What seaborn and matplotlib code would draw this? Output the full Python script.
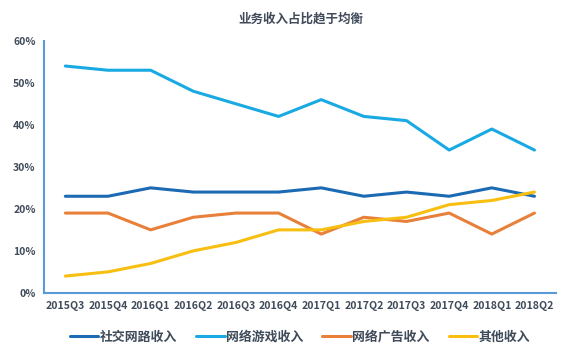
import matplotlib.pyplot as plt
import seaborn as sns
import numpy as np
import pandas as pd

quarters = ["2015Q3", "2015Q4", "2016Q1", "2016Q2", "2016Q3", "2016Q4",
            "2017Q1", "2017Q2", "2017Q3", "2017Q4", "2018Q1", "2018Q2"]
social = [23, 23, 25, 24, 24, 24, 25, 23, 24, 23, 25, 23]
games = [54, 53, 53, 48, 45, 42, 46, 42, 41, 34, 39, 34]
ads = [19, 19, 15, 18, 19, 19, 14, 18, 17, 19, 14, 19]
other = [4, 5, 7, 10, 12, 15, 15, 17, 18, 21, 22, 24]
series_names = ["社交网路收入", "网络游戏收入", "网络广告收入", "其他收入"]
colors = ["#1B6AB3", "#19A9E3", "#E8803A", "#F8BF10"]


def main() -> None:
    sns.set_style("white")
    plt.rcParams['font.family'] = ['Noto Sans CJK SC', 'DejaVu Sans']

    # long-form table for seaborn
    frames = []
    for name, vals in zip(series_names, [social, games, ads, other]):
        frames.append(pd.DataFrame({"quarter": quarters, "value": vals, "series": name}))
    df = pd.concat(frames, ignore_index=True)
    df["x"] = df["quarter"].map({q: i for i, q in enumerate(quarters)})

    fig = plt.figure(figsize=(5.68, 3.55), dpi=100)
    ax = fig.add_axes([0.0775, 0.175, 0.901, 0.71])
    sns.lineplot(data=df, x="x", y="value", hue="series", hue_order=series_names,
                 palette=colors, linewidth=2.2, ax=ax, legend=True)

    axis_color = "#5B9BD5"
    text_color = "#404B5A"
    ax.set_xlim(-0.5, len(quarters) - 0.5)
    ax.set_ylim(0, 60)
    ax.set_yticks(np.arange(0, 61, 10))
    ax.set_yticklabels([f"{v}%" for v in range(0, 61, 10)], fontsize=7.5,
                       color=text_color, fontweight="bold")
    ax.set_xticks(range(len(quarters)))
    ax.set_xticklabels(quarters, fontsize=7.6, color=text_color, fontweight="bold")
    ax.set_xticks(np.arange(-0.5, len(quarters), 1), minor=True)
    ax.tick_params(axis="x", which="major", length=0, pad=6)
    ax.tick_params(axis="x", which="minor", length=3, direction="in", color=axis_color, width=1.2)
    ax.tick_params(axis="y", length=0, pad=6)
    ax.set_xlabel("")
    ax.set_ylabel("")
    for side in ["top", "right"]:
        ax.spines[side].set_visible(False)
    for side in ["left", "bottom"]:
        ax.spines[side].set_color(axis_color)
        ax.spines[side].set_linewidth(1.5)

    fig.suptitle("业务收入占比趋于均衡", x=0.53, y=0.965, fontsize=9,
                 fontweight="bold", color=text_color)

    handles, labels = ax.get_legend_handles_labels()
    ax.legend(handles, labels, loc="upper center", bbox_to_anchor=(0.5, -0.1),
              ncol=4, frameon=False, handlelength=2.2,
              handletextpad=0.1, columnspacing=1.5,
              labelcolor=text_color, prop={"weight": "bold", "size": 9.3})

    fig.savefig("out.png", dpi=100)


if __name__ == "__main__":
    main()
